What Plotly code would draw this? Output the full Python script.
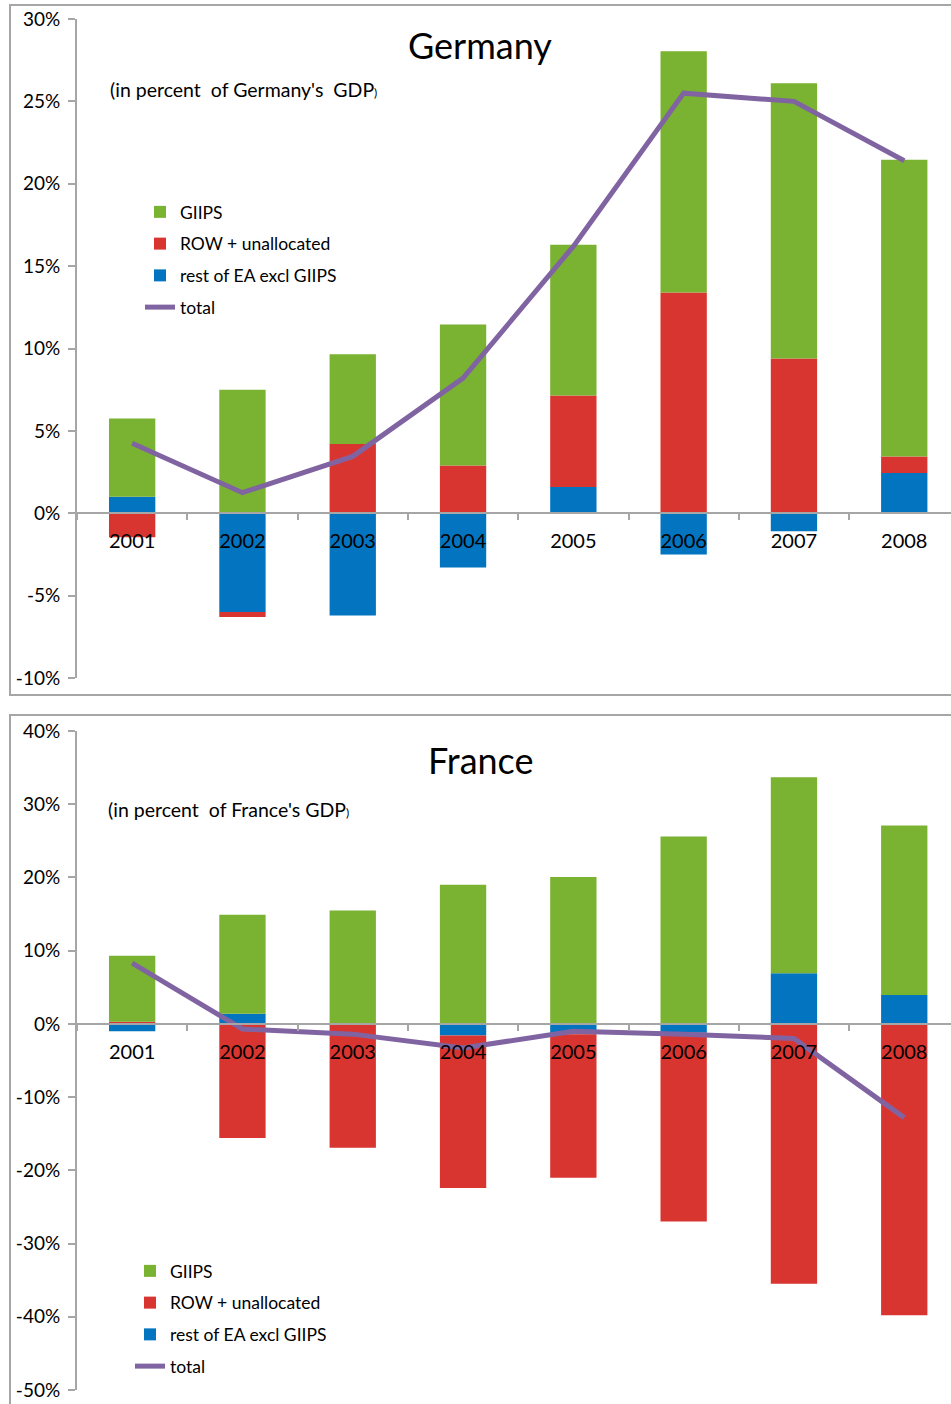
import plotly.graph_objects as go

W, H = 951, 1404

years = ["2001", "2002", "2003", "2004", "2005", "2006", "2007", "2008"]

# Germany (in percent of GDP)
de_rest = [1.0, -6.0, -6.2, -3.3, 1.6, -2.5, -1.1, 2.45]
de_row = [-1.45, -0.3, 4.2, 2.9, 5.55, 13.4, 9.4, 1.0]
de_giips = [4.75, 7.5, 5.45, 8.55, 9.15, 14.65, 16.7, 18.0]
de_total = [4.25, 1.25, 3.45, 8.2, 16.2, 25.5, 25.0, 21.4]
de_ticks = [-10, -5, 0, 5, 10, 15, 20, 25, 30]
de_ticktext = ["-10%", "-5%", "0%", "5%", "10%", "15%", "20%", "25%", "30%"]

# France (in percent of GDP)
fr_rest = [-1.0, 1.4, 0.0, -1.6, -1.4, -1.2, 6.9, 3.95]
fr_row = [0.3, -15.6, -16.9, -20.8, -19.6, -25.8, -35.5, -39.8]
fr_giips = [9.0, 13.5, 15.5, 19.0, 20.05, 25.6, 26.8, 23.15]
fr_total = [8.3, -0.7, -1.4, -3.3, -1.0, -1.4, -2.0, -12.8]
fr_ticks = [-50, -40, -30, -20, -10, 0, 10, 20, 30, 40]
fr_ticktext = ["-50%", "-40%", "-30%", "-20%", "-10%", "0%", "10%", "20%", "30%", "40%"]

names = ["rest of EA excl GIIPS", "ROW + unallocated", "GIIPS", "total"]
ranks = [3, 2, 1, 4]
colors = ["#0274C0", "#D93530", "#7AB232"]
line_color = "#8064A2"

FONT = "Lato"
GRAY = "#A6A6A6"

def px_y(p):
    return 1 - p / H

de_dom = [px_y(678), px_y(19)]
fr_dom = [px_y(1390), px_y(731)]
de_rng = [-10, 30]
fr_rng = [-50, 40]

def zero_pos(dom, rng):
    return dom[0] + (0 - rng[0]) / (rng[1] - rng[0]) * (dom[1] - dom[0])

fig = go.Figure()

panels = [
    ("x", "y", "legend", [de_rest, de_row, de_giips], de_total, "d"),
    ("x2", "y2", "legend2", [fr_rest, fr_row, fr_giips], fr_total, "f"),
]
for xa, ya, lg, series, total, tag in panels:
    for i, vals in enumerate(series):
        fig.add_trace(go.Bar(
            x=years, y=vals, name=names[i], xaxis=xa, yaxis=ya,
            marker=dict(color=colors[i], line=dict(width=0)),
            width=0.42, legend=lg, legendrank=ranks[i],
            legendgroup=tag + str(i),
        ))
    fig.add_trace(go.Scatter(
        x=years, y=total, name=names[3], xaxis=xa, yaxis=ya,
        mode="lines", line=dict(color=line_color, width=5),
        legend=lg, legendrank=ranks[3], legendgroup=tag + "3",
    ))

xr = [-0.5, -0.5 + (W - 77) / 110.3]

def xaxis_cfg(pos):
    return dict(
        domain=[77 / W, 1.0], range=xr, anchor="free", position=pos,
        showline=True, linecolor=GRAY, linewidth=2,
        ticks="outside", tickson="boundaries", ticklen=6, tickcolor=GRAY, tickwidth=2,
        tickfont=dict(family=FONT, size=20, color="black"), ticklabelstandoff=10,
        showgrid=False, zeroline=False, automargin=False, fixedrange=True,
    )

def yaxis_cfg(dom, rng, tv, tt, xa):
    return dict(
        domain=dom, range=rng, tickmode="array", tickvals=tv, ticktext=tt, anchor=xa,
        showline=True, linecolor=GRAY, linewidth=2,
        ticks="outside", ticklen=7, tickcolor=GRAY, tickwidth=2,
        tickfont=dict(family=FONT, size=19, color="black"),
        showgrid=False, zeroline=False, automargin=False, ticklabelstandoff=4,
    )

legend_common = dict(
    font=dict(family=FONT, size=17.5, color="black"),
    bgcolor="rgba(0,0,0,0)", borderwidth=0,
    traceorder="grouped", tracegroupgap=6,
    xanchor="left", yanchor="top",
)

fig.update_layout(
    width=W, height=H,
    margin=dict(l=0, r=0, t=0, b=0),
    paper_bgcolor="white", plot_bgcolor="rgba(0,0,0,0)",
    barmode="relative", bargap=0.58,
    xaxis=xaxis_cfg(zero_pos(de_dom, de_rng)),
    xaxis2=xaxis_cfg(zero_pos(fr_dom, fr_rng)),
    yaxis=yaxis_cfg(de_dom, de_rng, de_ticks, de_ticktext, "x"),
    yaxis2=yaxis_cfg(fr_dom, fr_rng, fr_ticks, fr_ticktext, "x2"),
    legend=dict(x=140 / W, y=px_y(194), **legend_common),
    legend2=dict(x=130 / W, y=px_y(1253), **legend_common),
    showlegend=True,
    font=dict(family=FONT, color="black"),
)

# panel borders
for top, bot in [(5, 695), (715, 1420)]:
    fig.add_shape(type="rect", xref="paper", yref="paper",
                  x0=10 / W, x1=1.02, y0=px_y(bot), y1=px_y(top),
                  line=dict(color=GRAY, width=2), layer="below")

# titles and subtitles
for txt, xc, yc in [("Germany", 480, 45), ("France", 480, 760)]:
    fig.add_annotation(text=txt, x=xc / W, y=px_y(yc), xref="paper", yref="paper",
                       showarrow=False, xanchor="center", yanchor="middle",
                       font=dict(family=FONT, size=36, color="black"))
for txt, xl, yc in [("(in percent  of Germany's  GDP<span style='font-size:12px'>)</span>", 108, 89),
                    ("(in percent  of France's GDP<span style='font-size:12px'>)</span>", 106, 810)]:
    fig.add_annotation(text=txt, x=xl / W, y=px_y(yc), xref="paper", yref="paper",
                       showarrow=False, xanchor="left", yanchor="middle",
                       font=dict(family=FONT, size=19.5, color="black"))

fig.write_html("out.html", config={"displayModeBar": False},
               post_script="document.body.style.margin='0';")
